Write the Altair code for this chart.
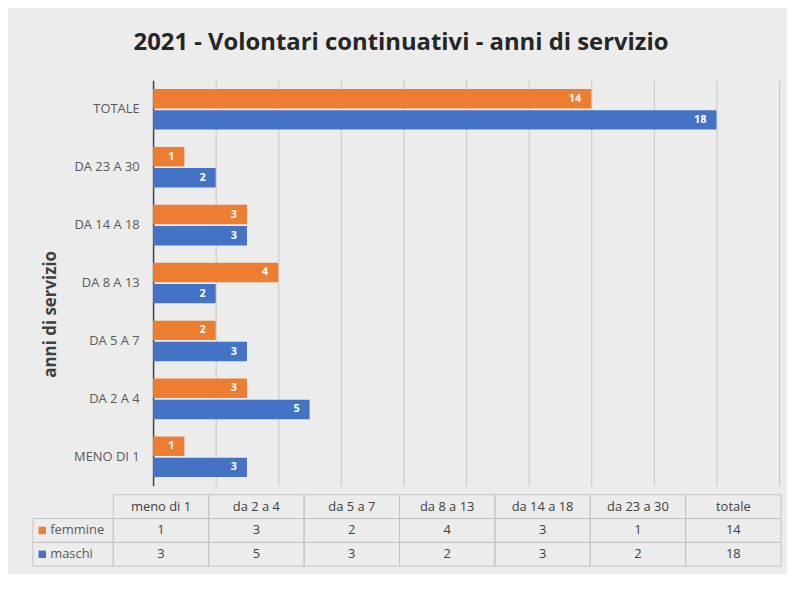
import altair as alt
import pandas as pd

# ---- data ----
categories = ["meno di 1", "da 2 a 4", "da 5 a 7", "da 8 a 13", "da 14 a 18", "da 23 a 30", "totale"]
bar_labels = ["MENO DI 1", "DA 2 A 4", "DA 5 A 7", "DA 8 A 13", "DA 14 A 18", "DA 23 A 30", "TOTALE"]
femmine = [1, 3, 2, 4, 3, 1, 14]
maschi = [3, 5, 3, 2, 3, 2, 18]
series = ["femmine", "maschi"]
colors = ["#ED7D31", "#4472C4"]
row_order = ["header", "femmine", "maschi"]

FONT = "Open Sans"

rows = []
for lab, f, m in zip(bar_labels, femmine, maschi):
    rows.append({"cat": lab, "serie": "femmine", "val": f})
    rows.append({"cat": lab, "serie": "maschi", "val": m})
bars_df = pd.DataFrame(rows)

cells = []
for c, f, m in zip(categories, femmine, maschi):
    cells.append({"col": c, "row": "header", "txt": c})
    cells.append({"col": c, "row": "femmine", "txt": str(f)})
    cells.append({"col": c, "row": "maschi", "txt": str(m)})
table_df = pd.DataFrame(cells)
lab_df = pd.DataFrame({"lbl": ["legenda"] * len(series), "row": series})

# ---- bar chart ----
base = alt.Chart(bars_df).encode(
    y=alt.Y(
        "cat:N",
        sort=bar_labels[::-1],
        scale=alt.Scale(paddingInner=0.3, paddingOuter=0.15),
        axis=alt.Axis(
            title="anni di servizio", labelFont=FONT, labelFontSize=13, labelColor="#595959",
            ticks=False, labelPadding=14, domainColor="#404040", domainWidth=1.5,
            titleFont=FONT, titleFontSize=17, titleFontWeight="bold", titleColor="#404040",
            titlePadding=14, titleY=235,
        ),
    ),
    yOffset=alt.YOffset("serie:N", sort=series, scale=alt.Scale(domain=series, paddingInner=0.08)),
)
bars = base.mark_bar().encode(
    x=alt.X(
        "val:Q",
        scale=alt.Scale(domain=[0, 20]),
        axis=alt.Axis(values=list(range(0, 21, 2)), labels=False, ticks=False, domain=False,
                      title=None, grid=True, gridColor="#c6c6c6"),
    ),
    color=alt.Color("serie:N", scale=alt.Scale(domain=series, range=colors), legend=None),
)
bar_text = base.mark_text(align="right", dx=-10, color="white", font=FONT, fontWeight="bold",
                          fontSize=11).encode(x="val:Q", text="val:Q")
bar_chart = alt.layer(bars, bar_text).properties(width=630, height=408)

# ---- data table ----
ty = alt.Y("row:N", sort=row_order,
           scale=alt.Scale(domain=row_order, paddingInner=0, paddingOuter=0), axis=None)
tx_scale = alt.Scale(domain=categories, range=[-40, 632], paddingInner=0, paddingOuter=0)
lx_scale = alt.Scale(domain=["legenda"], range=[-121, -40], paddingInner=0, paddingOuter=0)

cell_rects = alt.Chart(table_df).mark_rect(fill="transparent", stroke="#c4c4c4", strokeWidth=1).encode(
    x=alt.X("col:N", sort=categories, scale=tx_scale, axis=None), y=ty)
cell_text = alt.Chart(table_df).mark_text(font=FONT, fontSize=13, color="#404040").encode(
    x=alt.X("col:N", sort=categories, scale=tx_scale, axis=None), y=ty, text="txt:N")
lab_rects = alt.Chart(lab_df).mark_rect(fill="transparent", stroke="#c4c4c4", strokeWidth=1).encode(
    x=alt.X("lbl:N", scale=lx_scale, axis=None), y=ty)
lab_sq = alt.Chart(lab_df).mark_square(size=56, opacity=1).encode(
    x=alt.X("lbl:N", scale=lx_scale, axis=None), xOffset=alt.value(-31), y=ty,
    color=alt.Color("row:N", scale=alt.Scale(domain=series, range=colors), legend=None))
lab_txt = alt.Chart(lab_df).mark_text(align="left", dx=-23, font=FONT, fontSize=13,
                                      color="#595959").encode(
    x=alt.X("lbl:N", scale=lx_scale, axis=None), y=ty, text="row:N")

table = alt.layer(cell_rects, cell_text, lab_rects, lab_sq, lab_txt).resolve_scale(
    x="independent").properties(width=632, height=72)

chart = alt.vconcat(bar_chart, table, spacing=8).properties(
    title=alt.TitleParams("2021 - Volontari continuativi - anni di servizio", font=FONT, fontSize=24,
                          fontWeight="bold", color="#262626", anchor="middle", offset=26, dx=-6),
    background="#ececec",
    padding={"left": 24, "top": 21, "right": 5, "bottom": 5},
).configure_view(stroke=None)

chart.save("out.html", embed_options={"renderer": "svg", "actions": False})
